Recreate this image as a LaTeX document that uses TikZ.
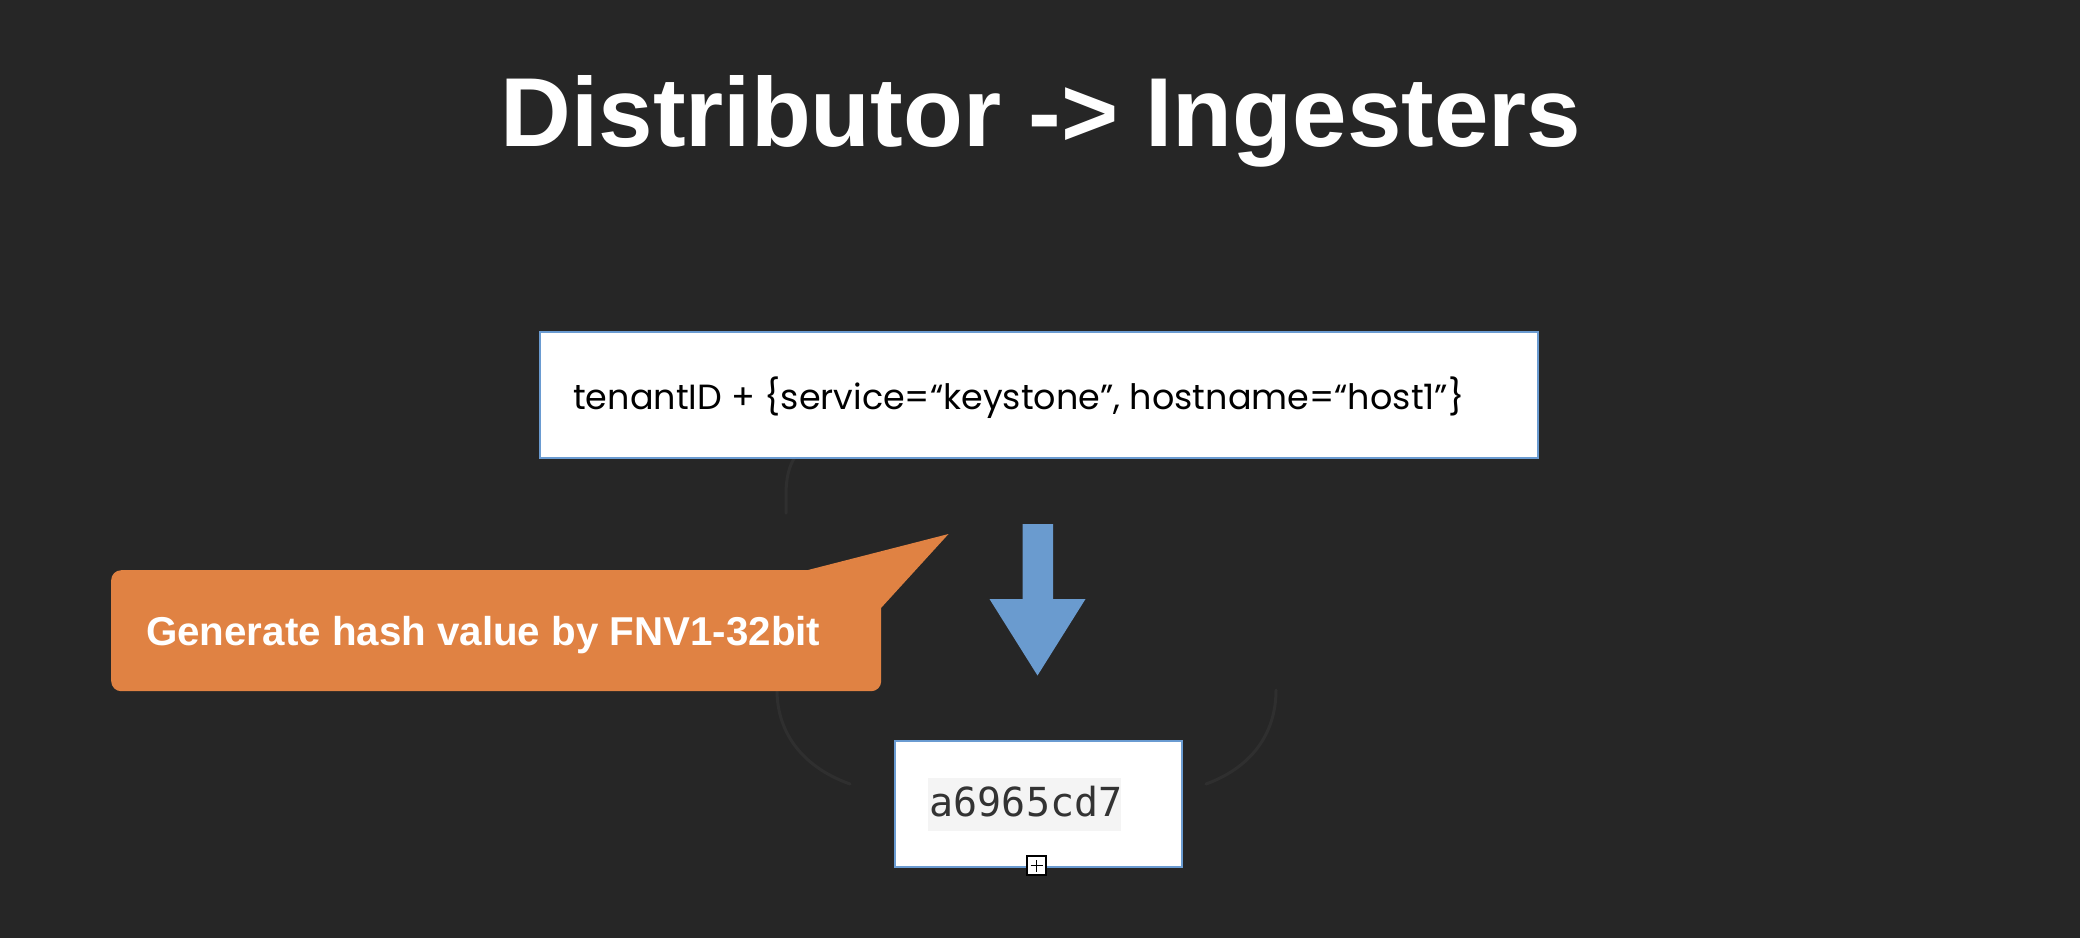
\documentclass[tikz,border=0pt]{standalone}
\usepackage{fontspec}
\setmainfont{Liberation Sans}
\newfontfamily\gothicfont{Poppins}
\newfontfamily\codefont{DejaVu Sans Mono}
\definecolor{bg}{HTML}{262626}
\definecolor{faint}{HTML}{2F2F2F}
\definecolor{boxblue}{HTML}{6A9BD1}
\definecolor{arrowblue}{HTML}{6A9BCF}
\definecolor{calloutfill}{HTML}{E08243}
\definecolor{codebg}{HTML}{F4F4F4}
\definecolor{codefg}{HTML}{333333}
\begin{document}
\begin{tikzpicture}[x=1pt,y=-1pt,
  valuebox/.style={draw=boxblue, line width=2pt, fill=white, inner sep=0pt, anchor=north west},
  faintarc/.style={draw=faint, line width=3pt, line cap=round},
  label/.style={inner sep=0pt, anchor=base west}]
% page background
\fill[bg] (0,0) rectangle (2080,938);
\useasboundingbox (0,0) rectangle (2080,938);

% faint ring fragments behind the boxes
\draw[faintarc] (786,513) -- (786,495) .. controls (786,478) and (789,466) .. (795,457);
\draw[faintarc] (777,690) .. controls (777,735) and (805,768) .. (850,784);
\draw[faintarc] (1276,690) .. controls (1276,735) and (1250,768) .. (1206,784);

% title
\node[inner sep=0pt, anchor=base, text=white, font=\bfseries\fontsize{98}{110}\selectfont] (title) at (1041,146) {Distributor -> Ingesters};

% input key box
\node[valuebox, minimum width=998pt, minimum height=126pt] (key) at (538.5,331) {};
\node[label] (keytext) at (573,409) {\resizebox{891pt}{!}{\gothicfont tenantID + \{service=“keystone”, hostname=“host1”\}}};

% block arrow
\fill[arrowblue] (1022.5,524) -- (1053,524) -- (1053,599) -- (1085.5,599)
  -- (1037.5,675.5) -- (989.5,599) -- (1022.5,599) -- cycle;

% callout: rounded body plus pointed tail (tail also squares off the top-right corner)
\node[fill=calloutfill, rounded corners=10pt, minimum width=770pt, minimum height=121pt, inner sep=0pt, anchor=north west] (callout) at (111,570) {};
\fill[calloutfill] (808,570) -- (948.5,534) -- (881,608) -- (861,608) -- (861,570) -- cycle;
\node[label, text=white, font=\bfseries\fontsize{40.3}{48}\selectfont] (note) at (146,645) {Generate hash value by FNV1-32bit};

% resulting hash box
\node[valuebox, minimum width=287.5pt, minimum height=126pt] (hash) at (893.6,740) {};
\fill[codebg] (928,778) rectangle (1121,831);
\node[label, text=codefg, font=\codefont\fontsize{40}{48}\selectfont] (hashtext) at (929.5,816) {a6965cd7};

% small resize handle
\node[draw=black, line width=2pt, fill=white, minimum size=19pt, inner sep=0pt] (handle) at (1036.5,865.5) {};
\draw[line width=1.5pt] ([xshift=-6pt]handle.center) -- ([xshift=6pt]handle.center);
\draw[line width=1.5pt] ([yshift=-6pt]handle.center) -- ([yshift=6pt]handle.center);
\end{tikzpicture}
\end{document}
